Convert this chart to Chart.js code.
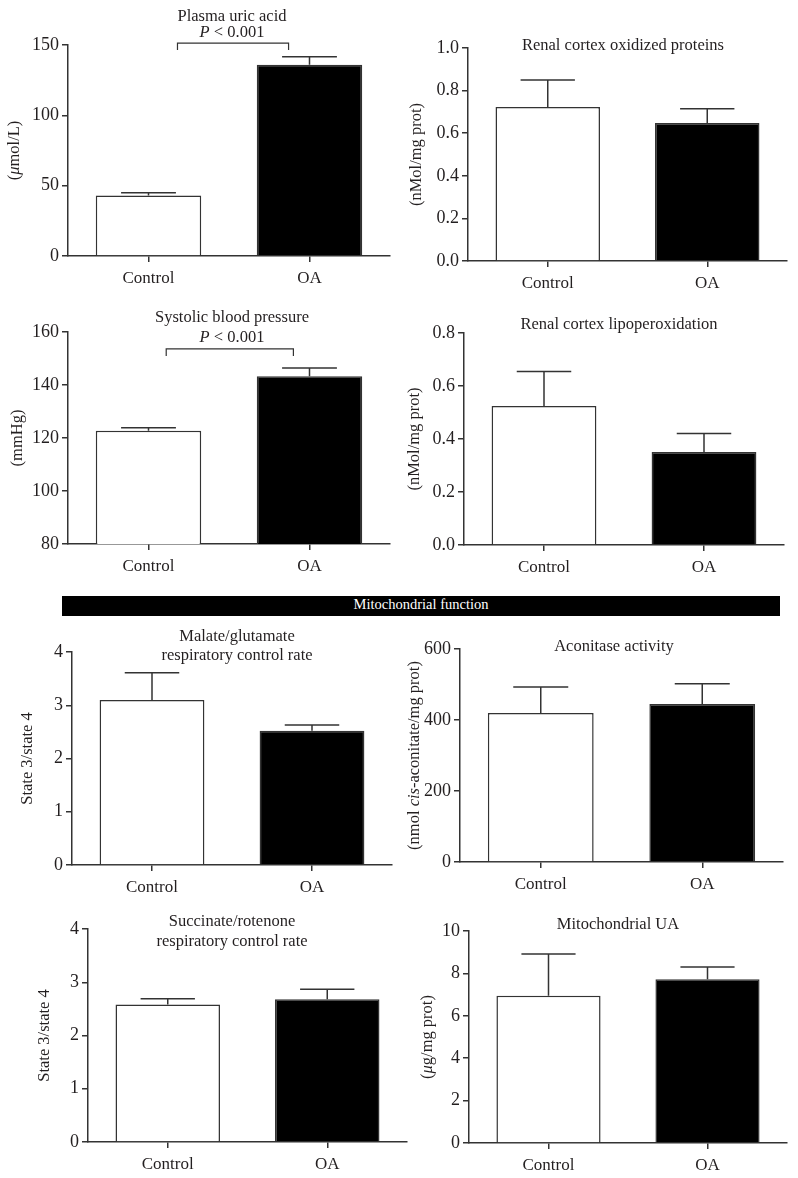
<!DOCTYPE html>
<html>
<head>
<meta charset="utf-8">
<script src="https://cdn.jsdelivr.net/npm/chart.js@4.4.1/dist/chart.umd.min.js"></script>
<style>
  body { margin: 0; background: #fff; }
  #page { position: relative; width: 798px; height: 1178px; overflow: hidden; background: #fff; }
  #page canvas { position: absolute; }
  #banner {
    position: absolute; left: 62px; top: 596px; width: 718px; height: 20px; z-index: 2;
    background: #000; color: #fff; text-align: center; line-height: 20px;
    font: 14.5px 'Liberation Serif', 'Times New Roman', serif;
  }
</style>
</head>
<body>
<div id="page">
  <div id="banner">Mitochondrial function</div>
</div>
<script>
// groups on the x axis
const groups = ['Control', 'OA'];

// bar means and top of error bar (mean + SEM)
const uricAcid = [43, 136];
const uricAcidErr = [45, 141.7];
const uricAcidTicks = [0, 50, 100, 150];

const oxidizedProteins = [0.723, 0.648];
const oxidizedProteinsErr = [0.85, 0.715];
const oxidizedProteinsTicks = [0, 0.2, 0.4, 0.6, 0.8, 1.0];

const systolicBP = [122.7, 143.3];
const systolicBPErr = [123.9, 146.4];
const systolicBPTicks = [80, 100, 120, 140, 160];

const lipoperoxidation = [0.525, 0.351];
const lipoperoxidationErr = [0.655, 0.421];
const lipoperoxidationTicks = [0, 0.2, 0.4, 0.6, 0.8];

const malateRCR = [3.1, 2.52];
const malateRCRErr = [3.61, 2.63];
const malateRCRTicks = [0, 1, 2, 3, 4];

const aconitase = [420, 445];
const aconitaseErr = [493, 502];
const aconitaseTicks = [0, 200, 400, 600];

const succinateRCR = [2.58, 2.68];
const succinateRCRErr = [2.69, 2.87];
const succinateRCRTicks = [0, 1, 2, 3, 4];

const mitoUA = [6.95, 7.72];
const mitoUAErr = [8.92, 8.3];
const mitoUATicks = [0, 2, 4, 6, 8, 10];

const FONT = "'Liberation Serif', 'Times New Roman', serif";
const INK = '#231f20';
const LINE = '#333333';
const page = document.getElementById('page');

// draws text made of [string, italic] pieces, centred on (x, y)
function drawPieces(ctx, pieces, x, y, size) {
  let total = 0;
  pieces.forEach(([s, it]) => {
    ctx.font = (it ? 'italic ' : '') + size + 'px ' + FONT;
    total += ctx.measureText(s).width;
  });
  let cur = x - total / 2;
  pieces.forEach(([s, it]) => {
    ctx.font = (it ? 'italic ' : '') + size + 'px ' + FONT;
    ctx.fillText(s, cur, y);
    cur += ctx.measureText(s).width;
  });
}

function makePanel(p) {
  const padL = 70, padT = 50, padR = 10, padB = 40;
  const yW = 40, xH = 30;
  const [l, r, t, b] = p.area;
  const cx = l - padL, cy = t - padT;
  const cw = r - l + padL + padR, ch = b - t + padT + padB;

  const canvas = document.createElement('canvas');
  canvas.width = cw; canvas.height = ch;
  canvas.style.left = cx + 'px'; canvas.style.top = cy + 'px';
  canvas.style.width = cw + 'px'; canvas.style.height = ch + 'px';
  page.appendChild(canvas);

  const ticks = p.ticks;

  // error bars (upper only) with caps
  const errorBars = {
    id: 'errorBars',
    afterDatasetsDraw(chart) {
      const ctx = chart.ctx;
      const ys = chart.scales.y;
      const meta = chart.getDatasetMeta(0);
      ctx.save();
      ctx.strokeStyle = LINE;
      ctx.lineWidth = 1.5;
      meta.data.forEach((bar, i) => {
        const top = ys.getPixelForValue(p.err[i]);
        const cap = bar.width * 0.26;
        ctx.beginPath();
        ctx.moveTo(bar.x, bar.y);
        ctx.lineTo(bar.x, top);
        ctx.moveTo(bar.x - cap, top);
        ctx.lineTo(bar.x + cap, top);
        ctx.stroke();
      });
      ctx.restore();
    }
  };

  // titles, rotated y label and the significance bracket
  const panelText = {
    id: 'panelText',
    afterDraw(chart) {
      const ctx = chart.ctx;
      const area = chart.chartArea;
      ctx.save();
      ctx.fillStyle = INK;
      ctx.textBaseline = 'middle';
      ctx.textAlign = 'left';
      p.titles.forEach(tl => drawPieces(ctx, tl.text, tl.x - cx, tl.y - cy, 16.5));

      ctx.save();
      ctx.translate(area.left + p.yLabelDx, (area.top + area.bottom) / 2);
      ctx.rotate(-Math.PI / 2);
      drawPieces(ctx, p.yLabel, 0, 0, 16.5);
      ctx.restore();

      if (p.bracket) {
        const meta = chart.getDatasetMeta(0);
        const x0 = meta.data[0].x, x1 = meta.data[1].x;
        const left = x0 + (x1 - x0) * p.bracket.from;
        const right = x0 + (x1 - x0) * p.bracket.to;
        const yb = chart.scales.y.getPixelForValue(p.bracket.y);
        ctx.strokeStyle = LINE;
        ctx.lineWidth = 1.2;
        ctx.beginPath();
        ctx.moveTo(left, yb + 7);
        ctx.lineTo(left, yb);
        ctx.lineTo(right, yb);
        ctx.lineTo(right, yb + 7);
        ctx.stroke();
      }
      ctx.restore();
    }
  };

  new Chart(canvas, {
    type: 'bar',
    data: {
      labels: groups,
      datasets: [{
        data: p.values,
        backgroundColor: ['#ffffff', '#000000'],
        borderColor: LINE,
        borderWidth: 1.5,
        categoryPercentage: 1,
        barPercentage: 0.655
      }]
    },
    options: {
      responsive: false,
      animation: false,
      devicePixelRatio: 1,
      layout: { padding: { left: padL - yW, top: padT, right: padR, bottom: padB - xH } },
      plugins: { legend: { display: false }, tooltip: { enabled: false } },
      scales: {
        x: {
          grid: { drawOnChartArea: false, offset: false, tickLength: 6, color: LINE, lineWidth: 1.5 },
          border: { color: LINE, width: 1.5 },
          ticks: { color: INK, font: { family: FONT, size: 17 }, padding: 6 },
          afterFit: s => { s.height = xH; }
        },
        y: {
          min: ticks[0],
          max: ticks[ticks.length - 1],
          grid: { drawOnChartArea: false, tickLength: 6, color: LINE, lineWidth: 1.5 },
          border: { color: LINE, width: 1.5 },
          ticks: {
            stepSize: ticks[1] - ticks[0],
            color: INK,
            font: { family: FONT, size: 18 },
            padding: 3,
            callback: v => p.decimals ? Number(v).toFixed(p.decimals) : String(Math.round(v))
          },
          afterFit: s => { s.width = yW; }
        }
      }
    },
    plugins: [errorBars, panelText]
  });
}

const pval = [['P', true], [' < 0.001', false]];

makePanel({
  area: [68, 390, 45, 256], values: uricAcid, err: uricAcidErr, ticks: uricAcidTicks,
  yLabel: [['(', false], ['\u03bc', true], ['mol/L)', false]], yLabelDx: -53,
  titles: [{ text: [['Plasma uric acid', false]], x: 232, y: 17 }, { text: pval, x: 232, y: 33 }],
  bracket: { from: 0.18, to: 0.87, y: 151.4 }
});
makePanel({
  area: [468, 787, 48, 261], values: oxidizedProteins, err: oxidizedProteinsErr, ticks: oxidizedProteinsTicks, decimals: 1,
  yLabel: [['(nMol/mg prot)', false]], yLabelDx: -51,
  titles: [{ text: [['Renal cortex oxidized proteins', false]], x: 623, y: 46 }]
});
makePanel({
  area: [68, 390, 332, 544], values: systolicBP, err: systolicBPErr, ticks: systolicBPTicks,
  yLabel: [['(mmHg)', false]], yLabelDx: -50,
  titles: [{ text: [['Systolic blood pressure', false]], x: 232, y: 318 }, { text: pval, x: 232, y: 338 }],
  bracket: { from: 0.11, to: 0.90, y: 153.6 }
});
makePanel({
  area: [464, 784, 333, 545], values: lipoperoxidation, err: lipoperoxidationErr, ticks: lipoperoxidationTicks, decimals: 1,
  yLabel: [['(nMol/mg prot)', false]], yLabelDx: -49,
  titles: [{ text: [['Renal cortex lipoperoxidation', false]], x: 619, y: 325 }]
});
makePanel({
  area: [72, 392, 652, 865], values: malateRCR, err: malateRCRErr, ticks: malateRCRTicks,
  yLabel: [['State 3/state 4', false]], yLabelDx: -44,
  titles: [{ text: [['Malate/glutamate', false]], x: 237, y: 637 }, { text: [['respiratory control rate', false]], x: 237, y: 656 }]
});
makePanel({
  area: [460, 783, 649, 862], values: aconitase, err: aconitaseErr, ticks: aconitaseTicks,
  yLabel: [['(nmol ', false], ['cis', true], ['-aconitate/mg prot)', false]], yLabelDx: -45,
  titles: [{ text: [['Aconitase activity', false]], x: 614, y: 647 }]
});
makePanel({
  area: [88, 407, 929, 1142], values: succinateRCR, err: succinateRCRErr, ticks: succinateRCRTicks,
  yLabel: [['State 3/state 4', false]], yLabelDx: -43,
  titles: [{ text: [['Succinate/rotenone', false]], x: 232, y: 922 }, { text: [['respiratory control rate', false]], x: 232, y: 942 }]
});
makePanel({
  area: [469, 787, 931, 1143], values: mitoUA, err: mitoUAErr, ticks: mitoUATicks,
  yLabel: [['(', false], ['\u03bc', true], ['g/mg prot)', false]], yLabelDx: -41,
  titles: [{ text: [['Mitochondrial UA', false]], x: 618, y: 925 }]
});
</script>
</body>
</html>
